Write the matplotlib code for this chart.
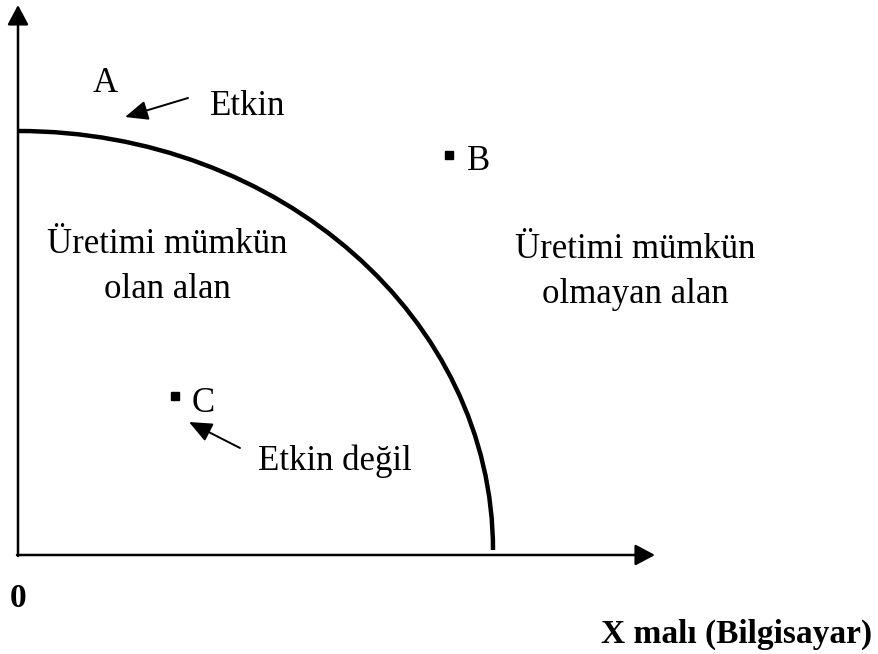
import matplotlib
matplotlib.use("Agg")
import matplotlib.pyplot as plt
from matplotlib.patches import PathPatch
from matplotlib.path import Path

# Frontier as a cubic Bezier (data units: origin at the corner of the axes)
frontier_x = [0, 262, 475, 475]
frontier_y = [424, 424, 236, 5]

# Points on the chart
point_names = ["B", "C"]
point_x = [431, 157]
point_y = [400, 159]

# Axis extents
x_axis_end = 637
y_axis_end = 550

plt.rcParams["font.family"] = ["Liberation Serif", "DejaVu Serif"]
FS = 25

fig = plt.figure(figsize=(8.79, 6.54), dpi=100)
ax = fig.add_axes([0, 0, 1, 1])
ax.set_xlim(-18, 861)
ax.set_ylim(-99, 555)
ax.axis("off")

axis_arrow = dict(arrowstyle="-|>,head_length=0.6,head_width=0.32", lw=1.8,
                  color="black", mutation_scale=20, shrinkA=0, shrinkB=0)
ax.annotate("", xy=(0, y_axis_end), xytext=(0, -1), arrowprops=axis_arrow)
ax.annotate("", xy=(x_axis_end, 0), xytext=(-1, 0), arrowprops=axis_arrow)

frontier = Path(list(zip(frontier_x, frontier_y)),
                [Path.MOVETO, Path.CURVE4, Path.CURVE4, Path.CURVE4])
ax.add_patch(PathPatch(frontier, facecolor="none", edgecolor="black", lw=3.2,
                       capstyle="butt"))

ax.plot(point_x, point_y, ls="none", marker="s", ms=5.5, color="black")
for name, px, py, dx, dy in zip(point_names, point_x, point_y, [18, 17], [-15, -16]):
    ax.text(px + dx, py + dy, name, fontsize=FS, ha="left", va="baseline")

small_arrow = dict(arrowstyle="-|>,head_length=0.7,head_width=0.3", lw=1.4,
                   color="black", mutation_scale=20, shrinkA=0, shrinkB=0)
ax.text(75, 463, "A", fontsize=FS, ha="left", va="baseline")
ax.annotate("", xy=(107, 438), xytext=(170, 457), arrowprops=small_arrow)
ax.text(192, 440, "Etkin", fontsize=FS, ha="left", va="baseline")

ax.annotate("", xy=(171, 133), xytext=(222, 107), arrowprops=small_arrow)
ax.text(240, 85, "Etkin değil", fontsize=FS, ha="left", va="baseline")

ax.text(149, 302, "Üretimi mümkün", fontsize=FS, ha="center", va="baseline")
ax.text(149, 257, "olan alan", fontsize=FS, ha="center", va="baseline")
ax.text(617, 297, "Üretimi mümkün", fontsize=FS, ha="center", va="baseline")
ax.text(617, 252, "olmayan alan", fontsize=FS, ha="center", va="baseline")

ax.text(0, -52, "0", fontsize=FS - 1, fontweight="bold", ha="center", va="baseline")
ax.text(854, -88, "X malı (Bilgisayar)", fontsize=FS - 1, fontweight="bold",
        ha="right", va="baseline")

fig.savefig("out.png", dpi=100)
